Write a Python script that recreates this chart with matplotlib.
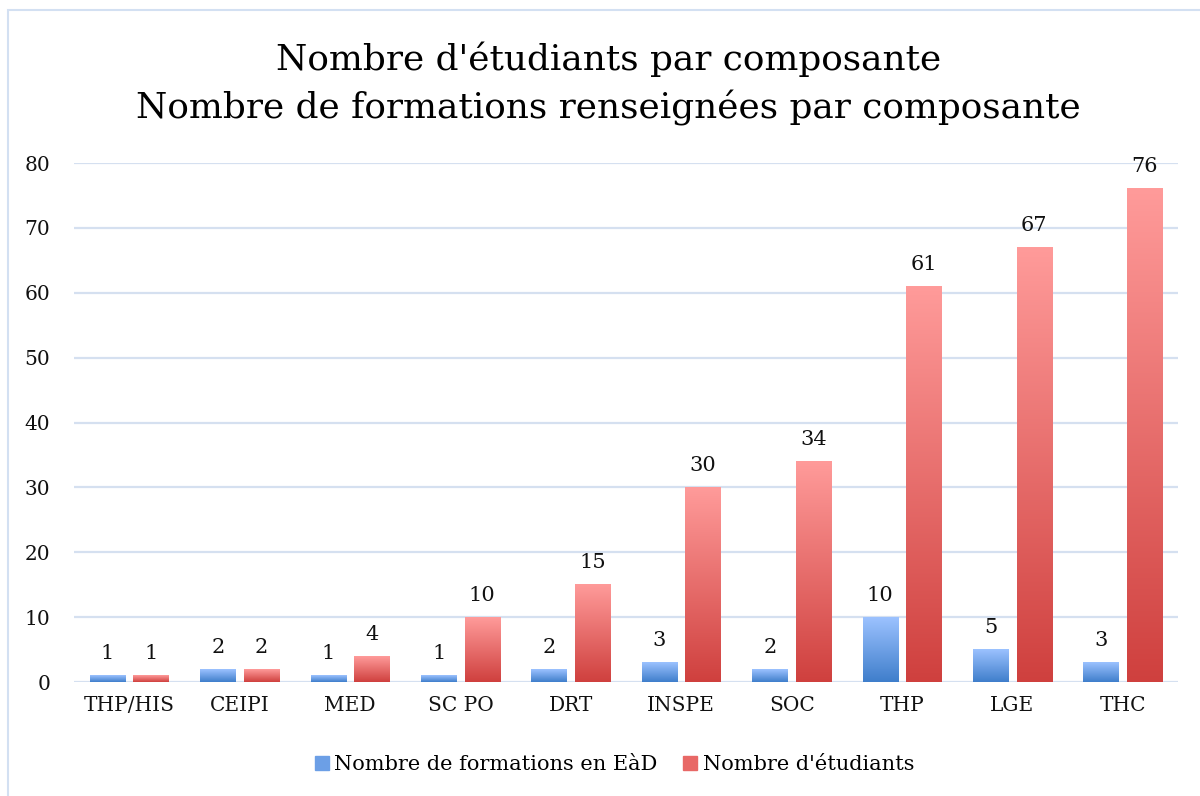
import numpy as np
import matplotlib.pyplot as plt
from matplotlib.colors import LinearSegmentedColormap
from matplotlib.patches import Rectangle

categories = ['THP/HIS', 'CEIPI', 'MED', 'SC PO', 'DRT', 'INSPE', 'SOC', 'THP', 'LGE', 'THC']
formations = [1, 2, 1, 1, 2, 3, 2, 10, 5, 3]
etudiants = [1, 2, 4, 10, 15, 30, 34, 61, 67, 76]
series_names = ['Nombre de formations en EàD', "Nombre d'étudiants"]

plt.rcParams['font.family'] = ['DejaVu Serif']

blue_cmap = LinearSegmentedColormap.from_list('b', ['#3f7ecb', '#9cc2ff'])
red_cmap = LinearSegmentedColormap.from_list('r', ['#cf403e', '#ff9b9a'])
grad = np.linspace(0, 1, 256).reshape(-1, 1)

fig = plt.figure(figsize=(12, 7.96), dpi=100)
ax = fig.add_axes([0.0617, 0.1432, 0.92, 0.652])

x = np.arange(len(categories))
w = 0.32
off = 0.197


def gradient_bars(xs, vals, cmap):
    bars = ax.bar(xs, vals, w, color='none', edgecolor='none', zorder=3)
    for b in bars:
        x0, y0 = b.get_x(), b.get_y()
        ax.imshow(grad, cmap=cmap, origin='lower', aspect='auto', zorder=3,
                  extent=[x0, x0 + b.get_width(), y0, y0 + b.get_height()])
    for xi, v in zip(xs, vals):
        ax.annotate(str(v), (xi, v), xytext=(0, 9), textcoords='offset points',
                    ha='center', va='bottom', fontsize=15, color='#111111')
    return bars


gradient_bars(x - off, formations, blue_cmap)
gradient_bars(x + off, etudiants, red_cmap)

ax.set_xlim(-0.5, len(categories) - 0.5)
ax.set_ylim(0, 80)
ax.set_yticks(range(0, 81, 10))
ax.set_xticks(x)
ax.set_xticklabels(categories)
ax.tick_params(length=0, labelsize=14.5, colors='#111111')
ax.tick_params(axis='y', pad=17)
ax.tick_params(axis='x', pad=10)
ax.grid(axis='y', color='#d5e0f0', linewidth=1.6, zorder=0)
ax.set_axisbelow(True)
for s in ax.spines.values():
    s.set_visible(False)

handles = [Rectangle((0, 0), 1, 1, color='#6c9fe6'), Rectangle((0, 0), 1, 1, color='#e86866')]
fig.legend(handles, series_names, loc='center', bbox_to_anchor=(0.512, 0.039), ncol=2,
           frameon=False, fontsize=15, handlelength=0.7, handleheight=0.7,
           handletextpad=0.25, columnspacing=1.2)

fig.text(0.507, 0.925, "Nombre d'étudiants par composante", ha='center', va='center', fontsize=25.8)
fig.text(0.507, 0.864, 'Nombre de formations renseignées par composante', ha='center', va='center', fontsize=25.8)

fig.add_artist(Rectangle((0.0067, -0.01), 1.0, 0.997, transform=fig.transFigure,
                         fill=False, edgecolor='#d3e0f2', linewidth=1.5))

fig.savefig('out.png', dpi=100)
